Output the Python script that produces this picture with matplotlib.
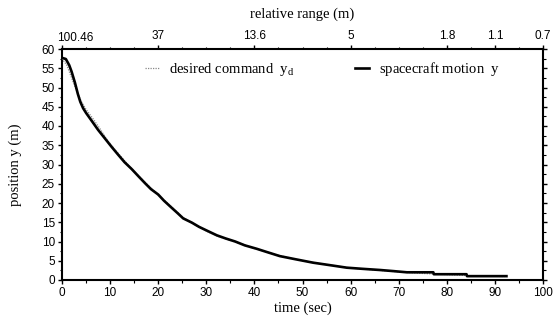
import matplotlib
matplotlib.use("Agg")
import matplotlib.pyplot as plt
import matplotlib.transforms as mtransforms
from matplotlib.ticker import MultipleLocator

# ---- data ----
t_motion = [0, 0.8, 1.5, 2.0, 2.7, 3.3, 3.8, 4.4, 5.0, 6.2, 7.5, 8.9, 10.3, 11.7, 13.0, 14.5,
            16.0, 17.3, 18.5, 20.0, 21.2, 22.5, 24.0, 25.2, 27.0, 28.5, 30.0, 32.2, 34.0,
            36.0, 38.0, 40.5, 42.5, 45.3, 48.5, 52.2, 56.0, 59.2, 62.5, 66.1, 69.0, 71.7,
            77.2, 77.3, 84.1, 84.2, 92.4]
y_motion = [57.7, 57.4, 55.8, 54.1, 51.2, 48.3, 46.3, 44.6, 43.4, 41.3, 39.0, 36.8, 34.6,
            32.5, 30.6, 28.8, 26.8, 25.1, 23.6, 22.2, 20.6, 19.1, 17.4, 16.0, 14.9, 13.8,
            12.9, 11.6, 10.8, 10.0, 9.0, 8.1, 7.3, 6.2, 5.4, 4.5, 3.8, 3.2, 2.9, 2.6, 2.3,
            2.0, 2.0, 1.5, 1.5, 1.0, 1.0]

t_desired = [0, 1.0, 2.0, 3.0, 4.0, 5.0, 6.5, 8.0, 9.5, 11.0, 13.0, 15.0, 17.3, 20.0, 22.5,
             25.0, 27.5, 30.0, 32.5, 35.0, 37.5, 40.0, 45.0, 50.0, 55.0, 60.0, 65.0, 70.0,
             75.0, 80.0, 85.0, 92.0]
y_desired = [57.5, 55.8, 52.5, 49.2, 46.4, 44.3, 41.8, 39.1, 36.2, 33.9, 31.0, 28.2, 25.3,
             22.1, 19.3, 16.4, 14.4, 12.7, 11.3, 10.3, 9.3, 8.2, 6.4, 5.0, 4.0, 3.1, 2.6,
             2.1, 1.7, 1.4, 1.1, 0.9]

range_tick_times = [0, 20, 40, 60, 80, 90, 100]
range_tick_labels = ["100.46", "37", "13.6", "5", "1.8", "1.1", "0.7"]

x_ticks = [0, 10, 20, 30, 40, 50, 60, 70, 80, 90, 100]
y_ticks = [0, 5, 10, 15, 20, 25, 30, 35, 40, 45, 50, 55, 60]

# ---- style ----
plt.rcParams['mathtext.fontset'] = 'custom'
plt.rcParams['mathtext.rm'] = 'Liberation Serif'
plt.rcParams['mathtext.it'] = 'Liberation Serif'
serif = 'Liberation Serif'
sans = 'Liberation Sans'
tick_fs = 8.5
label_fs = 10.5

fig = plt.figure(figsize=(5.57, 3.24), dpi=100)
ax = fig.add_axes([62 / 557, 1 - 280 / 324, (543 - 62) / 557, (280 - 49) / 324])

ax.plot(t_desired, y_desired, color='#888888', lw=0.9, ls=(0, (1, 1)),
        label=r'desired command  $\mathrm{y_d}$', zorder=3)
ax.plot(t_motion, y_motion, color='black', lw=1.9,
        label=r'spacecraft motion  $\mathrm{y}$', zorder=4)

ax.set_xlim(0, 100)
ax.set_ylim(0, 60)
ax.set_xticks(x_ticks)
ax.set_yticks(y_ticks)
ax.xaxis.set_minor_locator(MultipleLocator(5))
ax.yaxis.set_minor_locator(MultipleLocator(2.5))
ax.tick_params(which='major', direction='out', length=3, width=1.0, labelsize=tick_fs, pad=2,
               right=True)
ax.tick_params(which='minor', direction='out', length=1.8, width=0.8, right=True)
for lbl in ax.get_xticklabels() + ax.get_yticklabels():
    lbl.set_fontfamily(sans)
for s in ax.spines.values():
    s.set_linewidth(1.5)

ax.set_xlabel('time (sec)', fontfamily=serif, fontsize=label_fs, labelpad=2)
ax.set_ylabel('position y (m)', fontfamily=serif, fontsize=label_fs, labelpad=14)

ax2 = ax.twiny()
ax2.set_xlim(ax.get_xlim())
ax2.set_xticks(range_tick_times)
ax2.set_xticklabels([""] + range_tick_labels[1:], fontfamily=sans, fontsize=tick_fs)
ax2.xaxis.set_minor_locator(MultipleLocator(5))
ax2.tick_params(which='major', direction='out', length=3, width=1.0, pad=2)
ax2.tick_params(which='minor', direction='out', length=1.8, width=0.8)
for s in ax2.spines.values():
    s.set_visible(False)
ax2.set_xlabel('relative range (m)', fontfamily=serif, fontsize=label_fs, labelpad=9)

# first top label is drawn shifted right of its tick, as in the reference
trans = mtransforms.blended_transform_factory(ax2.transData, ax2.transAxes) + \
    mtransforms.ScaledTranslation(13 / 100, 5 / 100, fig.dpi_scale_trans)
ax2.text(range_tick_times[0], 1.0, range_tick_labels[0], transform=trans, ha='center',
         va='bottom', fontfamily=sans, fontsize=tick_fs)

leg = ax.legend(loc='upper left', bbox_to_anchor=(0.155, 0.99), ncol=2, frameon=False,
                handlelength=1.0, handletextpad=0.65, columnspacing=4.1,
                prop={'family': serif, 'size': label_fs}, borderaxespad=0.2)

fig.savefig('out.png', dpi=100)
